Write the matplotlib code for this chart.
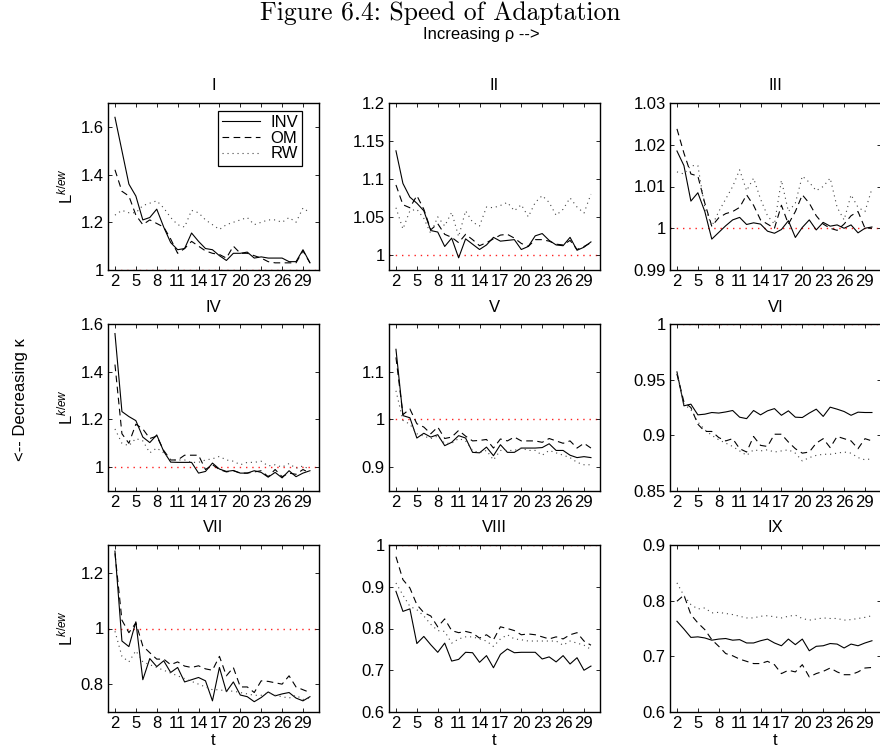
import matplotlib
matplotlib.use('Agg')
import matplotlib.pyplot as plt
import numpy as np
from matplotlib.ticker import FuncFormatter

plt.rcParams['font.family'] = ['Liberation Sans', 'DejaVu Sans']
plt.rcParams['mathtext.fontset'] = 'custom'
plt.rcParams['mathtext.rm'] = 'Liberation Sans'
plt.rcParams['mathtext.it'] = 'Liberation Sans:italic'

# data, t = 2..30
t = np.arange(2, 31)
names = ['I', 'II', 'III', 'IV', 'V', 'VI', 'VII', 'VIII', 'IX']

inv_I = [1.64, 1.50, 1.36, 1.31, 1.21, 1.22, 1.255, 1.18, 1.115, 1.085, 1.09, 1.155, 1.12, 1.09, 1.085,
         1.06, 1.04, 1.07, 1.07, 1.075, 1.05, 1.055, 1.05, 1.05, 1.05, 1.035, 1.035, 1.085, 1.03]
om_I = [1.42, 1.33, 1.31, 1.23, 1.19, 1.21, 1.195, 1.18, 1.13, 1.07, 1.09, 1.12, 1.10, 1.08, 1.07,
        1.065, 1.05, 1.10, 1.07, 1.07, 1.06, 1.05, 1.035, 1.03, 1.03, 1.03, 1.03, 1.08, 1.03]
rw_I = [1.23, 1.25, 1.24, 1.24, 1.27, 1.28, 1.29, 1.26, 1.22, 1.19, 1.18, 1.25, 1.24, 1.21, 1.19,
        1.17, 1.19, 1.20, 1.21, 1.22, 1.19, 1.20, 1.21, 1.21, 1.20, 1.22, 1.20, 1.26, 1.24]

inv_II = [1.137, 1.094, 1.076, 1.068, 1.058, 1.032, 1.03, 1.011, 1.022, 0.996, 1.021, 1.014, 1.007, 1.013, 1.023,
          1.018, 1.019, 1.02, 1.007, 1.011, 1.025, 1.028, 1.019, 1.013, 1.012, 1.023, 1.006, 1.01, 1.017]
om_II = [1.092, 1.066, 1.062, 1.078, 1.06, 1.033, 1.041, 1.027, 1.023, 1.016, 1.027, 1.02, 1.012, 1.016, 1.021,
         1.026, 1.027, 1.022, 1.015, 1.011, 1.02, 1.02, 1.018, 1.014, 1.013, 1.019, 1.007, 1.011, 1.016]
rw_II = [1.062, 1.034, 1.058, 1.06, 1.048, 1.028, 1.05, 1.038, 1.056, 1.024, 1.058, 1.043, 1.038, 1.063, 1.062,
         1.065, 1.069, 1.058, 1.066, 1.05, 1.069, 1.078, 1.069, 1.052, 1.06, 1.075, 1.063, 1.055, 1.08]

inv_III = [1.0185, 1.015, 1.0065, 1.0085, 1.004, 0.9974, 0.999, 1.0006, 1.002, 1.0026, 1.0009, 1.0013, 1.001,
           0.9993, 0.9988, 0.9997, 1.0018, 0.9978, 1.0002, 1.002, 0.9996, 1.0014, 1.0005, 1.0008, 1.0, 1.0008,
           0.9989, 1.0, 1.0003]
om_III = [1.0238, 1.018, 1.013, 1.0125, 1.006, 1.0005, 1.0025, 1.0035, 1.004, 1.005, 1.008, 1.0055, 1.002, 1.001,
          1.0, 1.0055, 1.001, 1.004, 1.008, 1.006, 1.003, 1.001, 1.0, 0.9995, 1.001, 1.003, 1.004, 1.0, 1.0]
rw_III = [1.0135, 1.013, 1.015, 1.015, 1.005, 1.0005, 1.004, 1.007, 1.01, 1.014, 1.009, 1.012, 1.007, 1.003,
          1.001, 1.0115, 1.004, 1.006, 1.0125, 1.011, 1.009, 1.01, 1.012, 1.005, 1.002, 1.008, 1.005, 1.004, 1.0095]

inv_IV = [1.56, 1.233, 1.212, 1.195, 1.126, 1.103, 1.135, 1.066, 1.021, 1.02, 1.02, 1.02, 0.975, 0.982, 1.017,
          0.992, 0.982, 0.986, 0.975, 0.975, 0.985, 0.978, 0.958, 0.978, 0.955, 0.985, 0.96, 0.975, 0.985]
om_IV = [1.43, 1.14, 1.10, 1.18, 1.16, 1.12, 1.13, 1.07, 1.03, 1.03, 1.05, 1.05, 1.05, 0.99, 1.01,
         0.99, 0.98, 0.985, 0.975, 0.975, 0.98, 0.985, 0.96, 0.99, 0.96, 0.975, 0.97, 0.99, 0.975]
rw_IV = [1.16, 1.10, 1.09, 1.12, 1.11, 1.06, 1.08, 1.06, 1.03, 1.03, 1.03, 1.02, 1.02, 1.03, 1.035,
         1.045, 1.03, 1.025, 1.01, 1.02, 1.02, 1.025, 1.005, 1.01, 1.0, 1.015, 0.995, 1.005, 0.99]

inv_V = [1.147, 1.008, 1.0035, 0.961, 0.971, 0.963, 0.968, 0.945, 0.952, 0.966, 0.961, 0.931, 0.93, 0.942, 0.924,
         0.947, 0.931, 0.931, 0.94, 0.94, 0.94, 0.941, 0.949, 0.935, 0.935, 0.925, 0.92, 0.922, 0.92]
om_V = [1.13, 1.01, 1.022, 0.991, 0.984, 0.97, 0.984, 0.96, 0.963, 0.977, 0.965, 0.955, 0.956, 0.958, 0.94,
        0.959, 0.955, 0.963, 0.955, 0.955, 0.955, 0.952, 0.96, 0.955, 0.95, 0.955, 0.94, 0.95, 0.94]
rw_V = [1.06, 0.998, 0.99, 0.97, 0.965, 0.96, 0.965, 0.95, 0.95, 0.96, 0.955, 0.935, 0.93, 0.935, 0.915,
        0.935, 0.935, 0.935, 0.94, 0.935, 0.935, 0.925, 0.935, 0.93, 0.925, 0.92, 0.91, 0.905, 0.905]

inv_VI = [0.957, 0.9265, 0.928, 0.9184, 0.919, 0.9205, 0.92, 0.921, 0.9223, 0.9163, 0.915, 0.9223, 0.9184, 0.922,
          0.924, 0.918, 0.922, 0.9163, 0.916, 0.92, 0.9235, 0.917, 0.9253, 0.9235, 0.9214, 0.918, 0.9208, 0.9205, 0.9205]
om_VI = [0.955, 0.93, 0.925, 0.91, 0.9035, 0.9035, 0.898, 0.895, 0.897, 0.888, 0.885, 0.899, 0.891, 0.89, 0.901,
         0.901, 0.894, 0.888, 0.884, 0.885, 0.893, 0.897, 0.889, 0.899, 0.897, 0.895, 0.888, 0.897, 0.895]
rw_VI = [0.955, 0.928, 0.923, 0.912, 0.905, 0.9, 0.896, 0.893, 0.89, 0.886, 0.882, 0.887, 0.886, 0.887, 0.885,
         0.886, 0.887, 0.884, 0.877, 0.88, 0.882, 0.883, 0.883, 0.884, 0.885, 0.884, 0.88, 0.878, 0.879]

inv_VII = [1.278, 0.955, 0.935, 1.024, 0.816, 0.892, 0.863, 0.884, 0.842, 0.86, 0.808, 0.816, 0.824, 0.812, 0.74,
           0.86, 0.773, 0.808, 0.761, 0.755, 0.737, 0.752, 0.772, 0.758, 0.765, 0.77, 0.75, 0.74, 0.755]
om_VII = [1.27, 1.03, 0.985, 1.02, 0.937, 0.913, 0.89, 0.89, 0.87, 0.88, 0.865, 0.86, 0.866, 0.855, 0.85,
          0.9, 0.83, 0.86, 0.79, 0.79, 0.77, 0.812, 0.81, 0.805, 0.80, 0.83, 0.79, 0.78, 0.77]
rw_VII = [0.99, 0.9, 0.88, 0.92, 0.88, 0.87, 0.86, 0.85, 0.84, 0.83, 0.82, 0.81, 0.8, 0.79, 0.78,
          0.78, 0.775, 0.775, 0.77, 0.765, 0.76, 0.76, 0.77, 0.76, 0.755, 0.75, 0.76, 0.745, 0.75]

inv_VIII = [0.889, 0.841, 0.847, 0.764, 0.781, 0.761, 0.743, 0.765, 0.722, 0.726, 0.743, 0.742, 0.719, 0.735, 0.706,
            0.738, 0.751, 0.742, 0.743, 0.743, 0.743, 0.727, 0.732, 0.72, 0.735, 0.715, 0.73, 0.70, 0.71]
om_VIII = [0.972, 0.917, 0.897, 0.857, 0.838, 0.83, 0.804, 0.823, 0.795, 0.79, 0.793, 0.789, 0.777, 0.785, 0.773,
           0.804, 0.8, 0.795, 0.785, 0.787, 0.785, 0.78, 0.775, 0.78, 0.775, 0.785, 0.79, 0.77, 0.76]
rw_VIII = [0.909, 0.88, 0.853, 0.845, 0.83, 0.81, 0.795, 0.793, 0.765, 0.775, 0.78, 0.78, 0.775, 0.77, 0.757,
           0.775, 0.785, 0.775, 0.773, 0.77, 0.77, 0.77, 0.77, 0.77, 0.76, 0.77, 0.765, 0.76, 0.75]

inv_IX = [0.763, 0.749, 0.734, 0.735, 0.733, 0.729, 0.731, 0.732, 0.729, 0.73, 0.724, 0.724, 0.728, 0.731, 0.724,
          0.719, 0.731, 0.721, 0.731, 0.71, 0.718, 0.719, 0.723, 0.722, 0.715, 0.722, 0.719, 0.724, 0.728]
om_IX = [0.799, 0.81, 0.775, 0.76, 0.748, 0.73, 0.718, 0.705, 0.701, 0.695, 0.691, 0.687, 0.687, 0.691, 0.685,
         0.669, 0.675, 0.672, 0.685, 0.663, 0.669, 0.673, 0.679, 0.672, 0.667, 0.667, 0.672, 0.679, 0.68]
rw_IX = [0.832, 0.809, 0.793, 0.785, 0.787, 0.778, 0.779, 0.777, 0.775, 0.772, 0.769, 0.769, 0.772, 0.773, 0.771,
         0.769, 0.772, 0.774, 0.768, 0.765, 0.767, 0.769, 0.768, 0.768, 0.765, 0.766, 0.768, 0.77, 0.773]

inv = [inv_I, inv_II, inv_III, inv_IV, inv_V, inv_VI, inv_VII, inv_VIII, inv_IX]
om = [om_I, om_II, om_III, om_IV, om_V, om_VI, om_VII, om_VIII, om_IX]
rw = [rw_I, rw_II, rw_III, rw_IV, rw_V, rw_VI, rw_VII, rw_VIII, rw_IX]

ylims = [(1, 1.7), (0.98, 1.2), (0.99, 1.03),
         (0.9, 1.6), (0.85, 1.2), (0.85, 1.0),
         (0.7, 1.3), (0.6, 1.0), (0.6, 0.9)]
yticks = [[1, 1.2, 1.4, 1.6], [1, 1.05, 1.1, 1.15, 1.2], [0.99, 1, 1.01, 1.02, 1.03],
          [1, 1.2, 1.4, 1.6], [0.9, 1, 1.1], [0.85, 0.9, 0.95, 1],
          [0.8, 1, 1.2], [0.6, 0.7, 0.8, 0.9, 1], [0.6, 0.7, 0.8, 0.9]]
xticks = list(range(2, 30, 3))

FS = 12
W, H = 880., 755.
lefts = [108, 389, 670]
tops = [103, 324, 545]
aw, ah = 211, 167

fig = plt.figure(figsize=(8.8, 7.55), dpi=100)

for k in range(9):
    r, c = divmod(k, 3)
    ax = fig.add_axes([lefts[c] / W, 1 - (tops[r] + ah) / H, aw / W, ah / H])
    ax.axhline(1, color='#ff2020', lw=1.0, dashes=(1, 3.5), zorder=1)
    ax.plot(t, inv[k], color='k', lw=0.8, label='INV')
    ax.plot(t, om[k], color='k', lw=0.8, dashes=(6, 4), label='OM')
    ax.plot(t, rw[k], color='#444444', lw=0.8, dashes=(1, 3.5), label='RW')
    ax.set_xlim(1, 31.3)
    ax.set_ylim(*ylims[k])
    ax.set_xticks(xticks)
    ax.set_yticks(yticks[k])
    ax.yaxis.set_major_formatter(FuncFormatter(lambda v, p: '%g' % v))
    ax.tick_params(direction='in', length=3, width=0.6, top=True, right=True,
                   labelsize=FS, pad=3)
    for s in ax.spines.values():
        s.set_linewidth(1.0)
    ax.set_title(names[k], fontsize=FS, pad=9)
    if c == 0:
        ax.set_ylabel(r'$\mathrm{L}^{k/ew}$', fontsize=FS, labelpad=4)
    if r == 2:
        ax.set_xlabel('t', fontsize=FS, labelpad=1)
    if k == 0:
        leg = ax.legend(loc='upper right', bbox_to_anchor=(0.92, 0.955), fancybox=False,
                        edgecolor='k', framealpha=1, fontsize=FS, handlelength=2.3,
                        borderpad=0.25, labelspacing=0.05, handletextpad=0.6, borderaxespad=0)
        leg.get_frame().set_linewidth(0.9)

fig.text(440 / W, 1 - 13 / H, 'Figure 6.4: Speed of Adaptation', family='cmr10',
         fontsize=18.5, ha='center', va='center')
fig.text(481 / W, 1 - 34 / H, 'Increasing \u03c1 -->', fontsize=FS, ha='center', va='center')
fig.text(20 / W, 1 - 400 / H, '<-- Decreasing \u03ba', fontsize=FS, rotation=90,
         ha='center', va='center')

fig.savefig('out.png', dpi=100)
